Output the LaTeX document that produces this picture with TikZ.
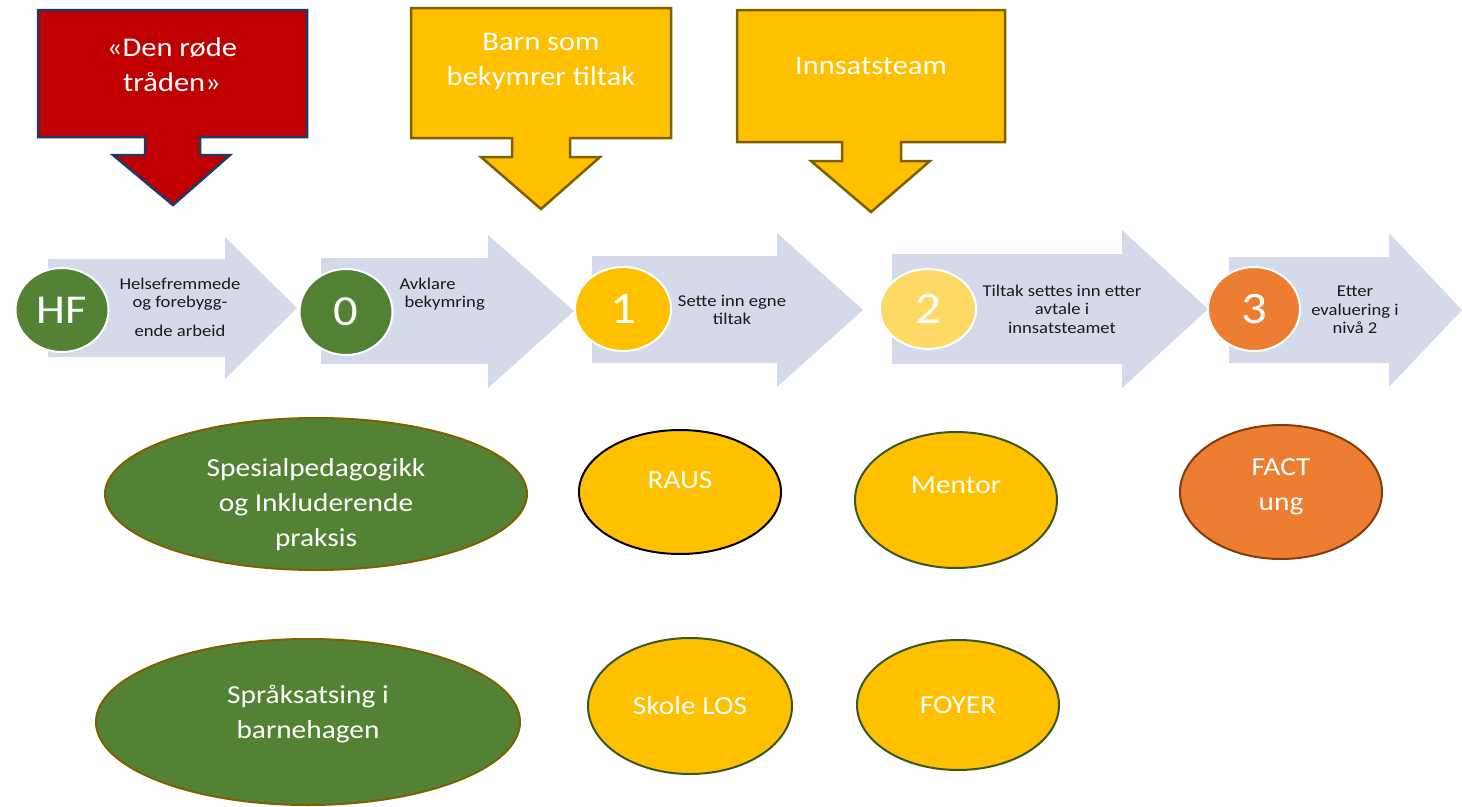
\documentclass[tikz,border=0pt]{standalone}
\usepackage{fontspec}
\setmainfont{Carlito}[FakeStretch=1.13]
\usetikzlibrary{shapes.geometric}
\definecolor{redfill}{HTML}{C00000}
\definecolor{navyline}{HTML}{1F3864}
\definecolor{goldfill}{HTML}{FFC000}
\definecolor{goldline}{HTML}{7F6000}
\definecolor{grnfill}{HTML}{548235}
\definecolor{lightgold}{HTML}{FFD966}
\definecolor{orngfill}{HTML}{ED7D31}
\definecolor{orngline}{HTML}{843C0C}
\definecolor{dkgreen}{HTML}{385723}
\definecolor{arrowfill}{RGB}{213,218,234}
\definecolor{darktext}{HTML}{1A1A1A}
\begin{document}
\begin{tikzpicture}[x=1pt,y=-1pt,
  callred/.style={fill=redfill, draw=navyline, line width=2.5pt},
  callgold/.style={fill=goldfill, draw=goldline, line width=2.5pt},
  blockarrow/.style={fill=arrowfill, draw=none},
  stepcircle/.style={ellipse, draw=white, line width=2pt, inner sep=0pt, text=white, font=\fontsize{45}{45}\selectfont},
  bubble/.style={ellipse, line width=2pt, inner sep=0pt},
  calltext/.style={text=white, align=center, font=\fontsize{27}{35}\selectfont},
  steptext/.style={text=darktext, align=center, font=\fontsize{16.5}{18.5}\selectfont},
  bubbletext/.style={text=white, align=center, font=\fontsize{26}{35}\selectfont}]
\useasboundingbox (0,0) rectangle (1462,806);

% callouts
\draw[callred] (38,10) -- (307,10) -- (307,137) -- (200,137) -- (200,155) -- (230,155) -- (173,205) -- (113,155) -- (145,155) -- (145,137) -- (38,137) -- cycle;
\node[calltext] (redtxt) at (172,65) {«Den røde\\tråden»};
\draw[callgold] (411,8) -- (671,8) -- (671,138) -- (570,138) -- (570,157) -- (600,157) -- (541,209) -- (481,157) -- (512,157) -- (512,138) -- (411,138) -- cycle;
\node[calltext] (barntxt) at (541,62) {Barn som\\bekymrer tiltak};
\draw[callgold] (737,10) -- (1005,10) -- (1005,142) -- (901,142) -- (901,161) -- (930,161) -- (871,212) -- (811,161) -- (842,161) -- (842,142) -- (737,142) -- cycle;
\node[calltext] (innstxt) at (871,66) {Innsatsteam};

% block arrows
\fill[blockarrow] (48,259) -- (225,259) -- (225,237) -- (297,308) -- (225,379) -- (225,357) -- (48,357) -- cycle;
\fill[blockarrow] (321,258) -- (488,258) -- (488,235) -- (574,311) -- (488,388) -- (488,364) -- (321,364) -- cycle;
\fill[blockarrow] (592,256) -- (777,256) -- (777,233) -- (863,310) -- (777,387) -- (777,363) -- (592,363) -- cycle;
\fill[blockarrow] (892,254) -- (1122,254) -- (1122,230) -- (1208,309) -- (1122,388) -- (1122,364) -- (892,364) -- cycle;
\fill[blockarrow] (1229,257) -- (1389,257) -- (1389,233) -- (1462,310) -- (1389,387) -- (1389,363) -- (1229,363) -- cycle;

% step circles
\node[stepcircle, fill=grnfill, minimum width=93, minimum height=84, font=\fontsize{41}{41}\selectfont] (hf) at (62,310) {HF};
\node[stepcircle, fill=grnfill, minimum width=93, minimum height=86, font=\fontsize{43}{43}\selectfont] (s0) at (346,312) {0};
\node[stepcircle, fill=goldfill, minimum width=96, minimum height=84] (s1) at (623,309) {1};
\node[stepcircle, fill=lightgold, minimum width=96, minimum height=80] (s2) at (928,309) {2};
\node[stepcircle, fill=orngfill, minimum width=92, minimum height=84] (s3) at (1254,309) {3};

% step texts
\node[steptext] (hftxt) at (180,307) {Helsefremmede\\og forebygg-\\[10pt]ende arbeid};
\node[steptext, align=left, anchor=west] (s0txt) at (396,294) {Avklare\\\hspace{5pt}bekymring};
\node[steptext] (s1txt) at (732,310) {Sette inn egne\\tiltak};
\node[steptext] (s2txt) at (1062,309) {Tiltak settes inn etter\\avtale i\\innsatsteamet};
\node[steptext] (s3txt) at (1355,310) {Etter\\evaluering i\\nivå 2};

% bubbles
\node[bubble, fill=grnfill, draw=goldline, minimum width=422, minimum height=152] (spes) at (316,494) {};
\node[bubbletext] (spestxt) at (316,505) {Spesialpedagogikk\\og Inkluderende\\praksis};
\node[bubble, fill=grnfill, draw=goldline, minimum width=424, minimum height=166] (sprak) at (308,722) {};
\node[bubbletext] (spraktxt) at (308,714) {Språksatsing i\\barnehagen};
\node[bubble, fill=goldfill, draw=black, minimum width=202, minimum height=124] (raus) at (680,492) {};
\node[bubbletext] (raustxt) at (680,480) {RAUS};
\node[bubble, fill=goldfill, draw=dkgreen, minimum width=202, minimum height=136] (mentor) at (956,500) {};
\node[bubbletext] (mentortxt) at (956,485) {Mentor};
\node[bubble, fill=orngfill, draw=orngline, minimum width=202, minimum height=134] (fact) at (1281,492) {};
\node[bubbletext] (facttxt) at (1281,487) {FACT\\ung};
\node[bubble, fill=goldfill, draw=dkgreen, minimum width=204, minimum height=136] (skole) at (690,706) {};
\node[bubbletext] (skoletxt) at (690,706) {Skole LOS};
\node[bubble, fill=goldfill, draw=dkgreen, minimum width=202, minimum height=130] (foyer) at (958,705) {};
\node[bubbletext] (foyertxt) at (958,705) {FOYER};
\end{tikzpicture}
\end{document}
